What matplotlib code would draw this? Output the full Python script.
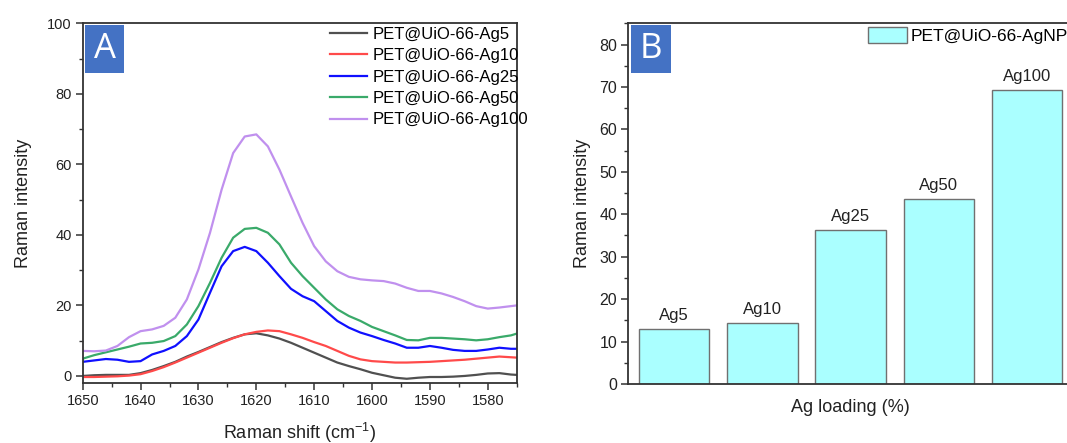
import matplotlib
matplotlib.use("Agg")
import matplotlib.pyplot as plt
from matplotlib.patches import Rectangle
from matplotlib.ticker import MultipleLocator

plt.rcParams['font.family'] = ['Liberation Sans', 'DejaVu Sans']
plt.rcParams['mathtext.fontset'] = 'custom'
plt.rcParams['mathtext.rm'] = 'Liberation Sans'
plt.rcParams['mathtext.it'] = 'Liberation Sans'

# ---- Panel A: SERS spectra ----
raman_shift = [1650, 1648, 1646, 1644, 1642, 1640, 1638, 1636, 1634, 1632,
               1630, 1628, 1626, 1624, 1622, 1620, 1618, 1616, 1614, 1612,
               1610, 1608, 1606, 1604, 1602, 1600, 1598, 1596, 1594, 1592,
               1590, 1588, 1586, 1584, 1582, 1580, 1578, 1576, 1575]

ag5 = [0.0, 0.2, 0.3, 0.3, 0.3, 0.8, 1.7, 2.8, 4.0, 5.5,
       6.8, 8.2, 9.6, 10.8, 11.8, 12.1, 11.5, 10.6, 9.4, 8.0,
       6.6, 5.2, 3.8, 2.8, 1.9, 0.9, 0.2, -0.5, -0.8, -0.5,
       -0.3, -0.3, -0.2, 0.0, 0.3, 0.7, 0.8, 0.4, 0.3]
ag10 = [-0.3, -0.3, -0.2, -0.1, 0.1, 0.5, 1.4, 2.5, 3.8, 5.2,
        6.6, 8.0, 9.4, 10.7, 11.8, 12.5, 12.9, 12.7, 11.8, 10.8,
        9.6, 8.5, 7.1, 5.7, 4.7, 4.2, 4.0, 3.8, 3.8, 3.9,
        4.0, 4.2, 4.4, 4.6, 4.9, 5.2, 5.5, 5.3, 5.2]
ag25 = [4.0, 4.4, 4.8, 4.6, 4.0, 4.2, 6.1, 7.1, 8.5, 11.3,
        16.0, 23.6, 31.1, 35.4, 36.6, 35.4, 32.1, 28.3, 24.7, 22.6,
        21.2, 18.4, 15.6, 13.7, 12.3, 11.3, 10.2, 9.2, 8.0, 8.0,
        8.5, 8.0, 7.4, 7.1, 7.1, 7.5, 8.0, 7.7, 7.7]
ag50 = [4.9, 5.9, 6.7, 7.5, 8.3, 9.2, 9.4, 9.9, 11.3, 14.6,
        19.8, 26.4, 33.5, 39.2, 41.7, 42.0, 40.6, 37.3, 32.1, 28.3,
        25.0, 21.7, 18.9, 17.0, 15.6, 13.9, 12.7, 11.5, 10.2, 10.1,
        10.8, 10.8, 10.6, 10.4, 10.1, 10.4, 11.0, 11.5, 12.0]
ag100 = [7.1, 7.0, 7.2, 8.5, 11.0, 12.7, 13.2, 14.2, 16.5, 21.7,
         30.2, 40.6, 52.8, 63.2, 67.9, 68.5, 65.1, 58.5, 50.9, 43.4,
         36.8, 32.5, 29.7, 28.1, 27.4, 27.1, 26.9, 26.2, 25.0, 24.1,
         24.1, 23.4, 22.4, 21.2, 19.8, 19.1, 19.4, 19.8, 20.0]

series_labels = ['PET@UiO-66-Ag5', 'PET@UiO-66-Ag10', 'PET@UiO-66-Ag25',
                 'PET@UiO-66-Ag50', 'PET@UiO-66-Ag100']
series_colors = ['#505050', '#ff4a4a', '#1010ff', '#3aaa6a', '#c090ee']

# ---- Panel B: peak intensity vs Ag loading ----
loading_labels = ['Ag5', 'Ag10', 'Ag25', 'Ag50', 'Ag100']
peak_intensity = [13.0, 14.4, 36.3, 43.7, 69.3]

W, H = 1067, 443
fig = plt.figure(figsize=(W / 100, H / 100), dpi=100)

spine_col = '#333333'
text_col = '#222222'
label_fs = 13


def style_axes(ax, tick_fs):
    for s in ax.spines.values():
        s.set_color(spine_col)
        s.set_linewidth(1.3)
    ax.tick_params(which='major', direction='out', length=5, width=1.1,
                   color=spine_col, labelsize=tick_fs, labelcolor=text_col,
                   top=False, right=False, pad=3)
    ax.tick_params(which='minor', direction='out', length=3, width=1.0,
                   color=spine_col, top=False, right=False)


def panel_tag(ax, letter):
    ax.add_patch(Rectangle((0.006, 0.863), 0.09, 0.132, transform=ax.transAxes,
                           facecolor='#4472c4', edgecolor='none', zorder=5))
    ax.text(0.051, 0.929, letter, transform=ax.transAxes, ha='center', va='center',
            color='white', fontsize=25, family='Open Sans', zorder=6)


# Panel A
axA = fig.add_axes([82.7 / W, (H - 383) / H, 434 / W, 359.7 / H])
for y, lab, col in zip([ag5, ag10, ag25, ag50, ag100], series_labels, series_colors):
    axA.plot(raman_shift, y, color=col, lw=1.6, label=lab)
axA.set_xlim(1650, 1575)
axA.set_ylim(-2, 100)
axA.xaxis.set_major_locator(MultipleLocator(10))
axA.xaxis.set_minor_locator(MultipleLocator(5))
axA.yaxis.set_major_locator(MultipleLocator(20))
axA.yaxis.set_minor_locator(MultipleLocator(10))
style_axes(axA, 10.5)
axA.set_xlabel('Raman shift (cm$^{-1}$)', fontsize=label_fs, color=text_col, labelpad=9)
axA.set_ylabel('Raman intensity', fontsize=label_fs, color=text_col, labelpad=11)
panel_tag(axA, 'A')
axA.legend(loc='upper left', bbox_to_anchor=(330 / W, 1 - 27 / H),
           bbox_transform=fig.transFigure, frameon=False, fontsize=12,
           handlelength=2.2, handletextpad=0.34, labelspacing=0.38,
           borderaxespad=0, borderpad=0)

# Panel B
axB = fig.add_axes([628.3 / W, (H - 384) / H, 444.7 / W, 360.7 / H])
pos = list(range(1, len(peak_intensity) + 1))
axB.bar(pos, peak_intensity, width=0.8, color='#aaffff', edgecolor='#707070',
        linewidth=1.0, label='PET@UiO-66-AgNPs')
for x, v, lab in zip(pos, peak_intensity, loading_labels):
    axB.text(x, v + 1.3, lab, ha='center', va='bottom', fontsize=12, color=text_col)
axB.set_xlim(0.48, 5.52)
axB.set_ylim(0, 85)
axB.yaxis.set_major_locator(MultipleLocator(10))
axB.yaxis.set_minor_locator(MultipleLocator(5))
style_axes(axB, 11.5)
axB.set_xticks([])
axB.set_xlabel('Ag loading (%)', fontsize=label_fs, color=text_col, labelpad=11)
axB.set_ylabel('Raman intensity', fontsize=label_fs, color=text_col, labelpad=6)
panel_tag(axB, 'B')
axB.legend(loc='upper left', bbox_to_anchor=(868 / W, 1 - 27 / H),
           bbox_transform=fig.transFigure, frameon=False, fontsize=12.5,
           handlelength=2.25, handleheight=1.05, handletextpad=0.2,
           borderaxespad=0, borderpad=0)

fig.savefig('out.png', dpi=100)
